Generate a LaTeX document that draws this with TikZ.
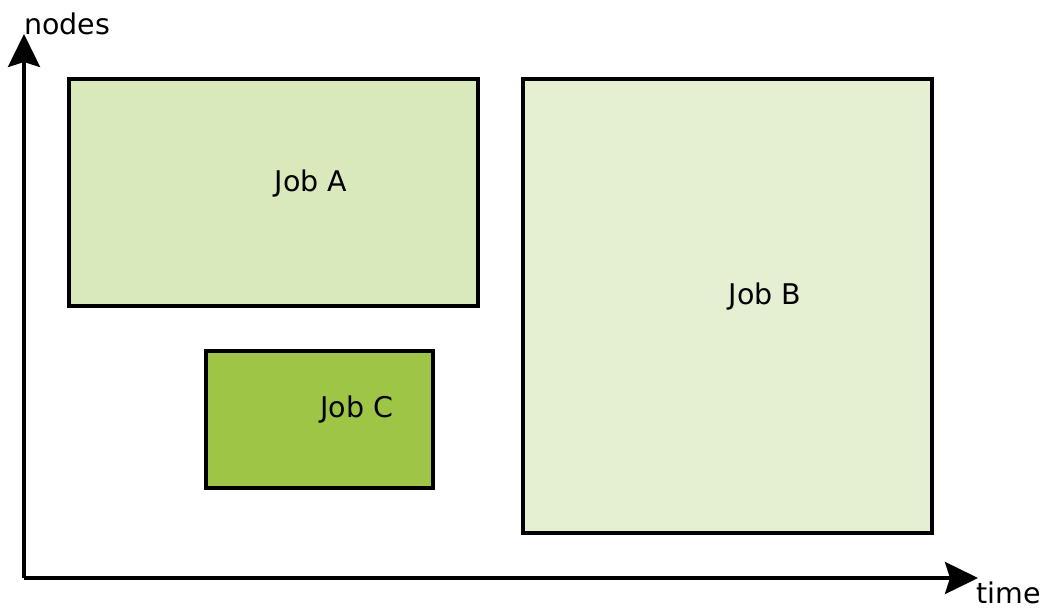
\documentclass[tikz,border=0pt]{standalone}
\usepackage{fontspec}
\setmainfont{DejaVu Sans}
\usetikzlibrary{arrows.meta}
\definecolor{jobA}{HTML}{DAE9BC}
\definecolor{jobB}{HTML}{E5F0D3}
\definecolor{jobC}{HTML}{9FC546}
\begin{document}
\begin{tikzpicture}[x=1pt,y=-1pt,
  jobbox/.style={draw=black,line width=4.5pt},
  axis/.style={line width=3.5pt,-{Stealth[length=33pt,width=32pt,inset=5pt]}},
  lbl/.style={font=\fontsize{28.5}{31}\selectfont,inner sep=0pt}]
\useasboundingbox (0,0) rectangle (1048,609);
\coordinate (O) at (24,578);
\coordinate (Ytop) at (24,34);
\coordinate (Xend) at (978,578);
\draw[axis] (O) -- (Ytop);
\draw[axis] (O) -- (Xend);
\node[lbl,anchor=west] (ny) at (24,24) {nodes};
\node[lbl,anchor=west] (nx) at (976,593) {time};
\draw[jobbox,fill=jobA] (69,79) rectangle (478,306);
\draw[jobbox,fill=jobB] (523,79) rectangle (932,533);
\draw[jobbox,fill=jobC] (206,351) rectangle (433,488);
\node[lbl] (a) at (311,184) {Job A};
\node[lbl] (b) at (765,297) {Job B};
\node[lbl] (c) at (357,410) {Job C};
\end{tikzpicture}
\end{document}
